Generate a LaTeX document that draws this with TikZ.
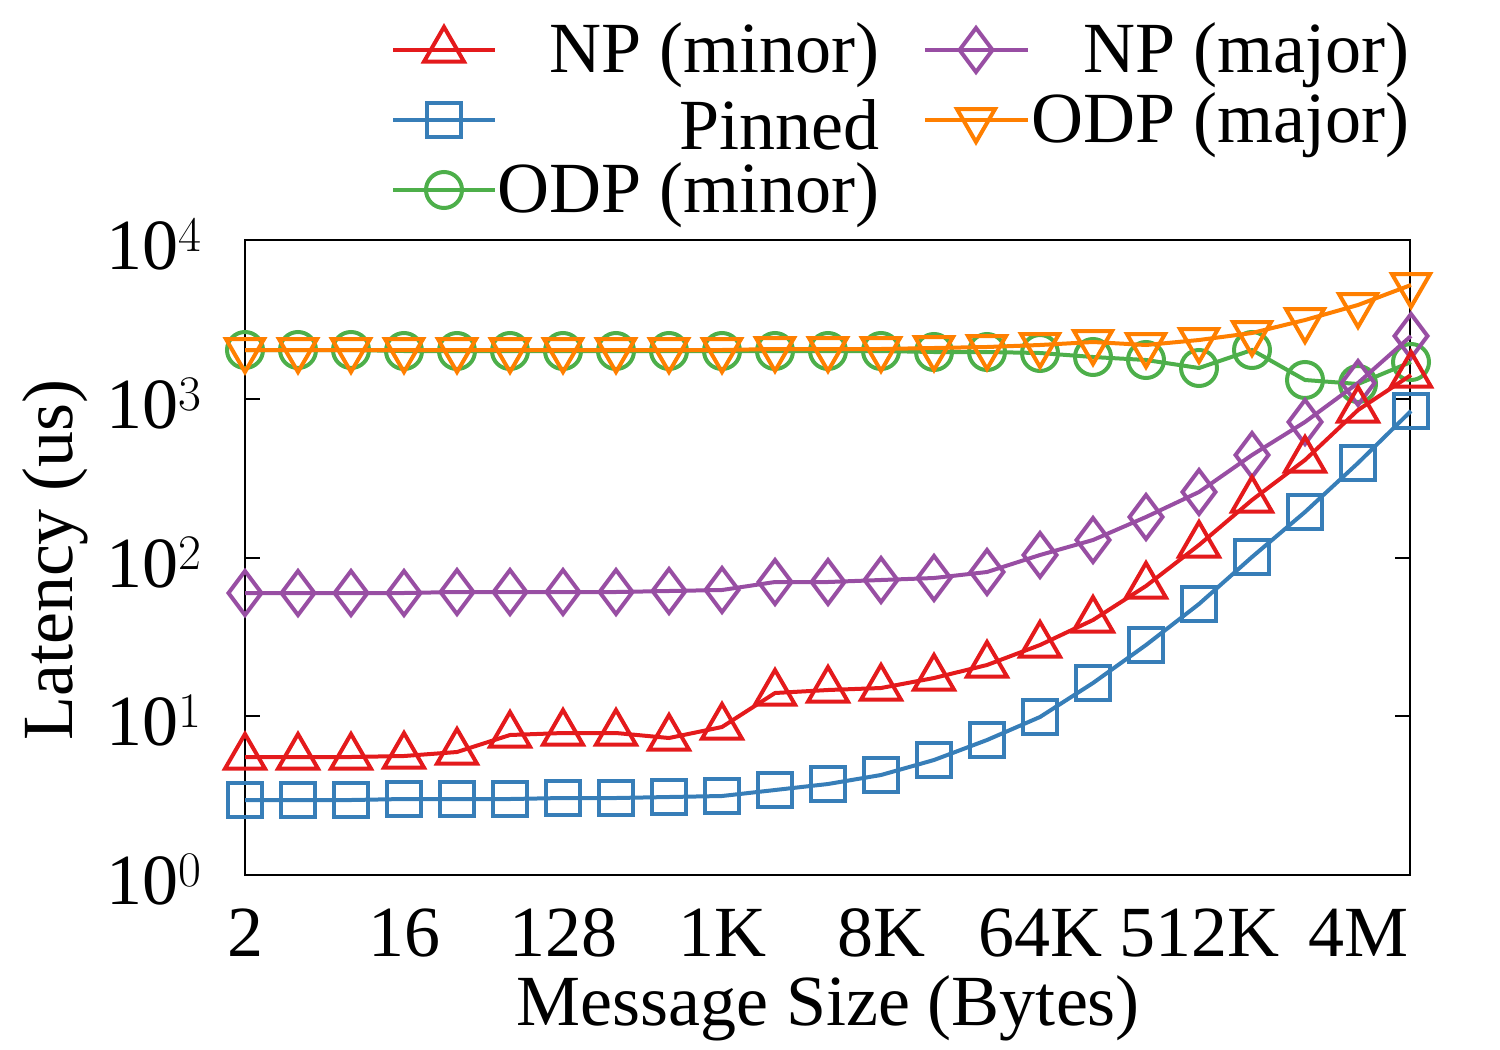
\documentclass[tikz,border=0pt]{standalone}
\usepackage{fontspec}
\setmainfont{Liberation Serif}
\usetikzlibrary{plotmarks}
\definecolor{cr}{HTML}{E41A1C}
\definecolor{cb}{HTML}{377EB8}
\definecolor{cg}{HTML}{4DAF4A}
\definecolor{cp}{HTML}{984EA3}
\definecolor{co}{HTML}{FF7F00}
\begin{document}
\begin{tikzpicture}[x=0.5pt,y=-0.5pt,
  ser/.style={line width=2pt,mark size=8.5pt,mark options={solid,line width=2pt}},
  tri/.style={ser,mark=triangle,mark size=11.5pt},
  itri/.style={ser,mark=triangle,mark size=11pt,mark options={rotate=180}},
  dia/.style={ser,mark=diamond,mark size=11pt},
  sq/.style={ser,mark=square,mark size=8.5pt},
  cir/.style={ser,mark=o,mark size=9pt},
  lab/.style={font=\fontsize{36}{36}\selectfont,inner sep=0pt}]
\useasboundingbox (0,0) rectangle (1500,1050);
% frame
\draw[line width=0.8pt] (245,240) rectangle (1410,875);
\foreach \y/\e in {240/4,399/3,558/2,716/1,875/0}{
  \draw[line width=0.8pt] (245,\y) -- ++(15,0) (1410,\y) -- ++(-15,0);
  \node[lab,anchor=east] at (203,\y+5) {10$^{\e}$};
}
\foreach \i/\t in {0/2,3/16,6/128,9/1K,12/8K,15/64K,18/512K,21/4M}{
  \node[lab] at (245+53*\i,933) {\t};
}
\node[lab,rotate=90] at (55,560) {Latency (us)};
\node[lab] at (828,1008) {Message Size (Bytes)};
% data
\draw[cir,color=cg] plot coordinates {(245,350)(298,350)(351,350)(404,351)(457,351)(510,351)(563,351)(616,351)(669,351)(722,351)(775,351)(828,351)(881,351)(934,352)(987,352)(1040,353)(1093,357)(1146,360)(1199,368)(1252,350)(1305,380)(1358,384)(1411,362)};
\draw[itri,color=co] plot coordinates {(245,350)(298,350)(351,350)(404,350)(457,350)(510,350)(563,350)(616,350)(669,350)(722,350)(775,349)(828,349)(881,349)(934,348)(987,347)(1040,345)(1093,342)(1146,345)(1199,340)(1252,333)(1305,320)(1358,305)(1411,285)};
\draw[dia,color=cp] plot coordinates {(245,593)(298,593)(351,593)(404,593)(457,592)(510,592)(563,592)(616,592)(669,591)(722,590)(775,582)(828,582)(881,580)(934,578)(987,572)(1040,555)(1093,540)(1146,517)(1199,492)(1252,455)(1305,422)(1358,383)(1411,336)};
\draw[tri,color=cr] plot coordinates {(245,757)(298,757)(351,757)(404,756)(457,752)(510,735)(563,733)(616,733)(669,738)(722,727)(775,693)(828,690)(881,688)(934,678)(987,665)(1040,645)(1093,620)(1146,586)(1199,545)(1252,500)(1305,460)(1358,410)(1411,375)};
\draw[sq,color=cb] plot coordinates {(245,800)(298,800)(351,800)(404,799)(457,799)(510,799)(563,798)(616,798)(669,797)(722,796)(775,790)(828,784)(881,775)(934,760)(987,740)(1040,717)(1093,683)(1146,645)(1199,604)(1252,557)(1305,512)(1358,463)(1411,411)};
% legend
\draw[line width=2pt,color=cr] (393,50) -- (495,50);
\draw[tri,color=cr] plot coordinates {(444,50)};
\draw[line width=2pt,color=cb] (393,120) -- (495,120);
\draw[sq,color=cb] plot coordinates {(444,120)};
\draw[line width=2pt,color=cg] (393,190) -- (495,190);
\draw[cir,color=cg] plot coordinates {(444,190)};
\draw[line width=2pt,color=cp] (925,50) -- (1028,50);
\draw[dia,color=cp] plot coordinates {(976,50)};
\draw[line width=2pt,color=co] (925,120) -- (1028,120);
\draw[itri,color=co] plot coordinates {(976,120)};
\node[lab,anchor=east] at (880,55) {NP (minor)};
\node[lab,anchor=east] at (880,125) {Pinned};
\node[lab,anchor=east] at (880,195) {ODP (minor)};
\node[lab,anchor=east] at (1410,55) {NP (major)};
\node[lab,anchor=east] at (1410,125) {ODP (major)};
\end{tikzpicture}
\end{document}
